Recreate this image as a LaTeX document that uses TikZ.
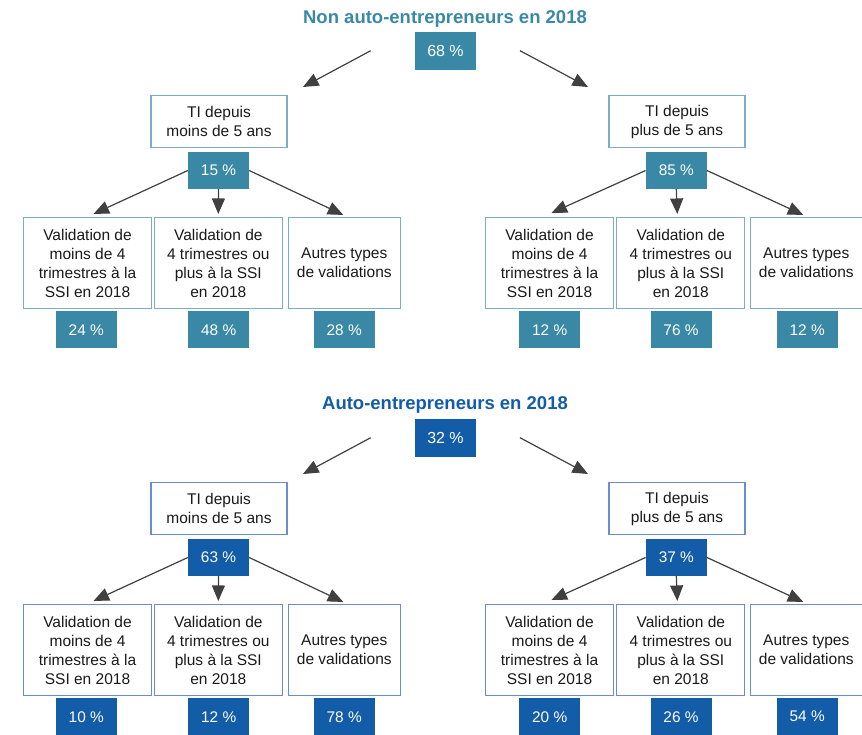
\documentclass[tikz,border=0pt]{standalone}
\usepackage{fontspec}
\setmainfont{Liberation Sans}
\usetikzlibrary{arrows.meta}
\definecolor{tealfill}{RGB}{57,137,166}
\definecolor{tealline}{RGB}{125,172,198}
\definecolor{bluefill}{RGB}{18,92,168}
\definecolor{blueline}{RGB}{105,140,212}
\definecolor{arrowgray}{RGB}{64,64,64}
\definecolor{txt}{RGB}{26,26,26}
\begin{document}
\begin{tikzpicture}[x=1pt,y=-1pt,
 wbox/.style={draw, line width=1.1pt, fill=white, align=center, inner sep=0pt, font=\fontsize{15.5}{19}\selectfont, text=txt},
 topbox/.style={wbox, minimum width=136pt, minimum height=52pt},
 childbox/.style={wbox, minimum width=128pt, minimum height=91pt},
 otherbox/.style={wbox, minimum width=112pt, minimum height=91pt},
 pbox/.style={inner sep=0pt, minimum width=61pt, minimum height=37pt, text=white, font=\fontsize{15.4}{19}\selectfont},
 rootbox/.style={pbox, minimum height=38pt, font=\fontsize{16}{19}\selectfont},
 arr/.style={draw=arrowgray, line width=1.2pt, -{Triangle[length=15.5pt,width=13pt]}},
 ttl/.style={inner sep=0pt, font=\fontsize{18.5}{21}\selectfont\bfseries}
]
\useasboundingbox (0,0) rectangle (862,734);

% ---------------- Non auto-entrepreneurs ----------------
\node[ttl, text=tealfill] (nT) at (445,18.5) {Non auto-entrepreneurs en 2018};
\node[rootbox, fill=tealfill] (n0) at (445.5,51) {68 \%};
\coordinate (nL0) at (370.7,50.7);
\coordinate (nL1) at (303,87);
\coordinate (nR0) at (520,50.7);
\coordinate (nR1) at (588,87);
\draw[arr] (nL0) -- (nL1);
\draw[arr] (nR0) -- (nR1);

\node[topbox, draw=tealline] (nA) at (219,121.5) {TI depuis\\moins de 5 ans};
\node[pbox, fill=tealfill] (npA) at (218.5,170.5) {15 \%};
\node[childbox, draw=tealline] (nA1) at (87.5,263) {Validation de\\moins de 4\\trimestres à la\\SSI en 2018};
\node[childbox, draw=tealline] (nA2) at (218.3,263) {Validation de\\4 trimestres ou\\plus à la SSI\\en 2018};
\node[otherbox, draw=tealline] (nA3) at (344.3,263) {Autres types\\de validations};
\node[pbox, fill=tealfill] (npA1) at (86.3,329.7) {24 \%};
\node[pbox, fill=tealfill] (npA2) at (218.7,329.7) {48 \%};
\node[pbox, fill=tealfill] (npA3) at (344.2,329.7) {28 \%};
\draw[arr] (npA.west) -- ([shift={(6,-3)}]nA1.north);
\draw[arr] (npA.south) -- ([shift={(0,-3)}]nA2.north);
\draw[arr] (npA.east) -- ([shift={(-1,-2)}]nA3.north);

\node[topbox, draw=tealline] (nB) at (677,121.5) {TI depuis\\plus de 5 ans};
\node[pbox, fill=tealfill] (npB) at (676.3,170.5) {85 \%};
\node[childbox, draw=tealline] (nB1) at (549.5,263) {Validation de\\moins de 4\\trimestres à la\\SSI en 2018};
\node[childbox, draw=tealline] (nB2) at (680.8,263) {Validation de\\4 trimestres ou\\plus à la SSI\\en 2018};
\node[otherbox, draw=tealline] (nB3) at (806.3,263) {Autres types\\de validations};
\node[pbox, fill=tealfill] (npB1) at (549.7,329.7) {12 \%};
\node[pbox, fill=tealfill] (npB2) at (681,329.7) {76 \%};
\node[pbox, fill=tealfill] (npB3) at (807.2,329.7) {12 \%};
\draw[arr] (npB.west) -- ([shift={(2,-4)}]nB1.north);
\draw[arr] (npB.south) -- ([shift={(-3.5,-3)}]nB2.north);
\draw[arr] (npB.east) -- ([shift={(-3,-2)}]nB3.north);

% ---------------- Auto-entrepreneurs ----------------
\begin{scope}[shift={(0,387)}]
\node[ttl, text=bluefill] (aT) at (445,17.5) {Auto-entrepreneurs en 2018};
\node[rootbox, fill=bluefill] (a0) at (445.5,51) {32 \%};
\coordinate (aL0) at (370.7,50.7);
\coordinate (aL1) at (303,87);
\coordinate (aR0) at (520,50.7);
\coordinate (aR1) at (588,87);
\draw[arr] (aL0) -- (aL1);
\draw[arr] (aR0) -- (aR1);

\node[topbox, draw=blueline] (aA) at (219,121.5) {TI depuis\\moins de 5 ans};
\node[pbox, fill=bluefill] (apA) at (218.5,170.5) {63 \%};
\node[childbox, draw=blueline] (aA1) at (87.5,263) {Validation de\\moins de 4\\trimestres à la\\SSI en 2018};
\node[childbox, draw=blueline] (aA2) at (218.3,263) {Validation de\\4 trimestres ou\\plus à la SSI\\en 2018};
\node[otherbox, draw=blueline] (aA3) at (344.3,263) {Autres types\\de validations};
\node[pbox, fill=bluefill] (apA1) at (86.3,329.7) {10 \%};
\node[pbox, fill=bluefill] (apA2) at (218.7,329.7) {12 \%};
\node[pbox, fill=bluefill] (apA3) at (344.2,329.7) {78 \%};
\draw[arr] (apA.west) -- ([shift={(6,-3)}]aA1.north);
\draw[arr] (apA.south) -- ([shift={(0,-3)}]aA2.north);
\draw[arr] (apA.east) -- ([shift={(-1,-2)}]aA3.north);

\node[topbox, draw=blueline] (aB) at (677,121.5) {TI depuis\\plus de 5 ans};
\node[pbox, fill=bluefill] (apB) at (676.3,170.5) {37 \%};
\node[childbox, draw=blueline] (aB1) at (549.5,263) {Validation de\\moins de 4\\trimestres à la\\SSI en 2018};
\node[childbox, draw=blueline] (aB2) at (680.8,263) {Validation de\\4 trimestres ou\\plus à la SSI\\en 2018};
\node[otherbox, draw=blueline] (aB3) at (806.3,263) {Autres types\\de validations};
\node[pbox, fill=bluefill] (apB1) at (549.7,329.7) {20 \%};
\node[pbox, fill=bluefill] (apB2) at (681,329.7) {26 \%};
\node[pbox, fill=bluefill] (apB3) at (807.2,329.7) {54 \%};
\draw[arr] (apB.west) -- ([shift={(2,-4)}]aB1.north);
\draw[arr] (apB.south) -- ([shift={(-3.5,-3)}]aB2.north);
\draw[arr] (apB.east) -- ([shift={(-3,-2)}]aB3.north);
\end{scope}
\end{tikzpicture}
\end{document}
